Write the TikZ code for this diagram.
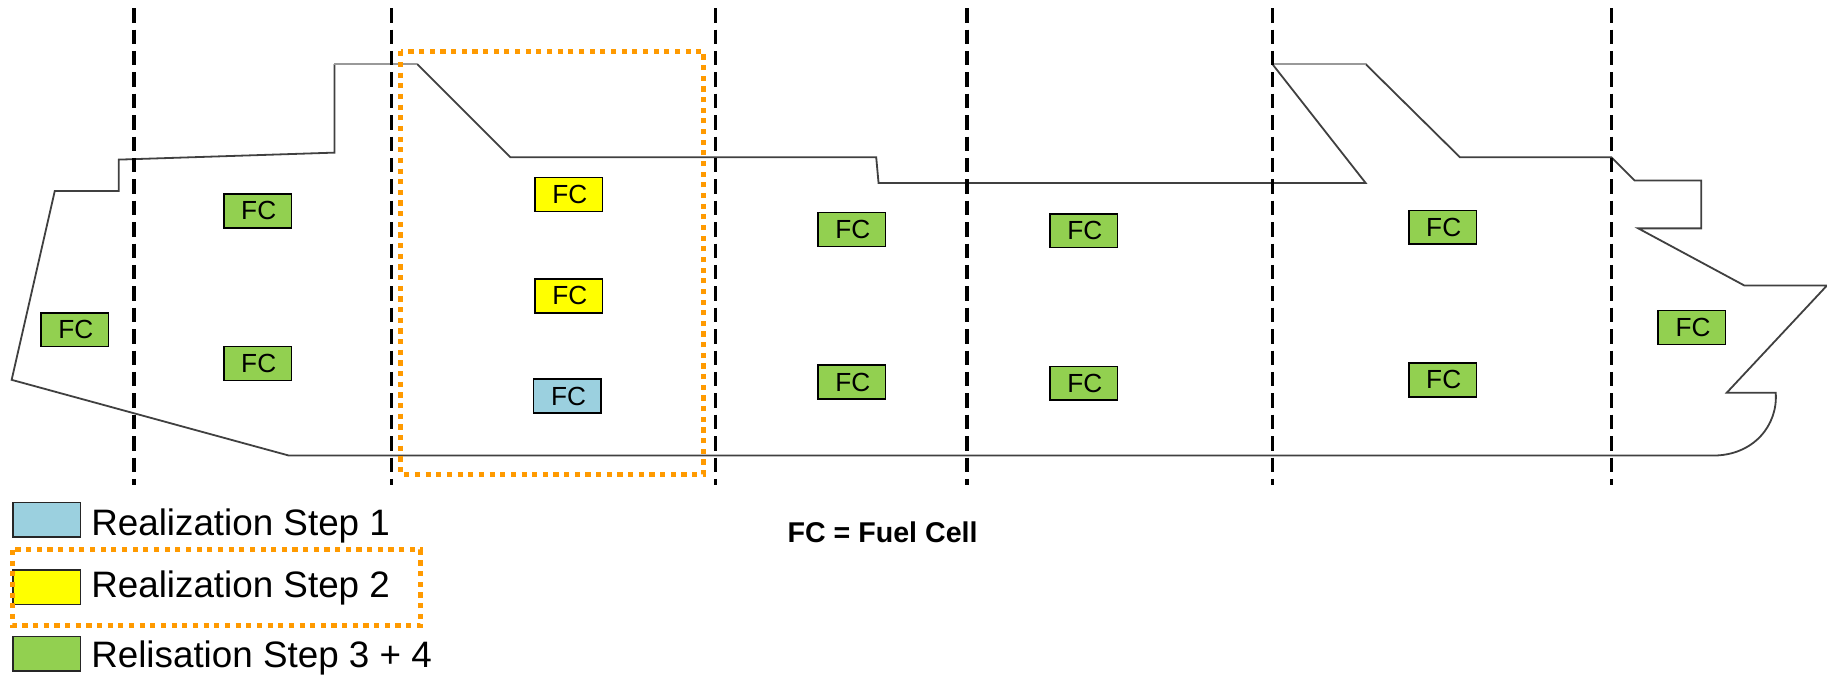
\documentclass[tikz,border=0pt]{standalone}
\usepackage{fontspec}
\setmainfont{Liberation Sans}
\definecolor{stepblue}{HTML}{9BD0DF}
\definecolor{stepyellow}{HTML}{FFFF00}
\definecolor{stepgreen}{HTML}{92D050}
\definecolor{markorange}{HTML}{FF9A00}
\tikzset{
  fcbox/.style={draw=black,line width=0.8pt,minimum width=33.8pt,minimum height=16.9pt,inner sep=0pt,font=\fontsize{13.1}{15}\selectfont,text=black},
  fcgreen/.style={fcbox,fill=stepgreen},
  fcyellow/.style={fcbox,fill=stepyellow},
  fcblue/.style={fcbox,fill=stepblue},
  fclabel/.style={inner sep=0pt,font=\fontsize{13.1}{15}\selectfont},
  legendbox/.style={draw=black!85,line width=0.9pt,minimum width=33.8pt,minimum height=17.2pt,inner sep=0pt},
  legendtext/.style={anchor=west,inner sep=0pt,font=\fontsize{18.4}{22}\selectfont},
  hull/.style={draw=black!75,line width=0.9pt,line join=miter},
  hulllight/.style={draw=black!40,line width=0.6pt},
  section/.style={draw=black,line width=1.7pt,dash pattern=on 7.2pt off 3.5pt},
  marker/.style={draw=markorange,line width=2.5pt,dash pattern=on 2.6pt off 2.73pt}
}
\begin{document}
\begin{tikzpicture}[x=0.5826pt,y=-0.5826pt]
\useasboundingbox (0,0) rectangle (1568,583);
% hull
\draw[hull] (1092,55) -- (1172,157) -- (754,157) -- (752,135) -- (438,135) -- (358,55);
\draw[hull] (287,55) -- (287,131) -- (102,137) -- (102,164) -- (47,164) -- (10,326)
  -- (248,391) -- (1470,391) .. controls (1505,391) and (1526,365) .. (1524,337)
  -- (1482,337) -- (1568,245) -- (1497,245) -- (1406,196) -- (1460,196) -- (1460,155)
  -- (1403,155) -- (1383,135) -- (1253,135) -- (1172,55);
\draw[hulllight] (287,55) -- (358,55);
\draw[hulllight] (1092,55) -- (1172,55);
% section lines
\foreach \n/\x in {a/115,b/336,c/614,d/830,e/1092,f/1383}{
  \coordinate (top\n) at (\x,7);
  \coordinate (bot\n) at (\x,416);
  \draw[section] (top\n) -- (bot\n);
}
% step 2 frame
\draw[marker] (344,44) rectangle (604,407);
% fuel cells
\foreach \n/\st/\x/\y in {f1/fcgreen/64/283,f2/fcgreen/221/181,f3/fcgreen/221/312,
  f4/fcyellow/488/167,f5/fcyellow/488/254,f6/fcblue/487/340,
  f7/fcgreen/731/197,f8/fcgreen/731/328,f9/fcgreen/930/198,f10/fcgreen/930/329,
  f11/fcgreen/1238/195,f12/fcgreen/1238/326,f13/fcgreen/1452/281}{
  \node[\st,text=black] (\n) at (\x,\y) {\raisebox{-1.1pt}{\hspace{1.2pt}FC}};
}
% legend
\node[legendbox,fill=stepblue] (l1) at (40,446) {};
\node[legendbox,fill=stepyellow] (l2) at (40,504) {};
\node[legendbox,fill=stepgreen] (l3) at (40,561) {};
\node[legendtext] (t1) at (78,451) {Realization Step 1};
\node[legendtext] (t2) at (78,505) {Realization Step 2};
\node[legendtext] (t3) at (78,565) {Relisation Step 3 + 4};
\draw[marker] (11,472) rectangle (361,537);
\node[inner sep=0pt,font=\bfseries\fontsize{14.3}{17}\selectfont] (note) at (757.5,457) {FC = Fuel Cell};
\end{tikzpicture}
\end{document}
